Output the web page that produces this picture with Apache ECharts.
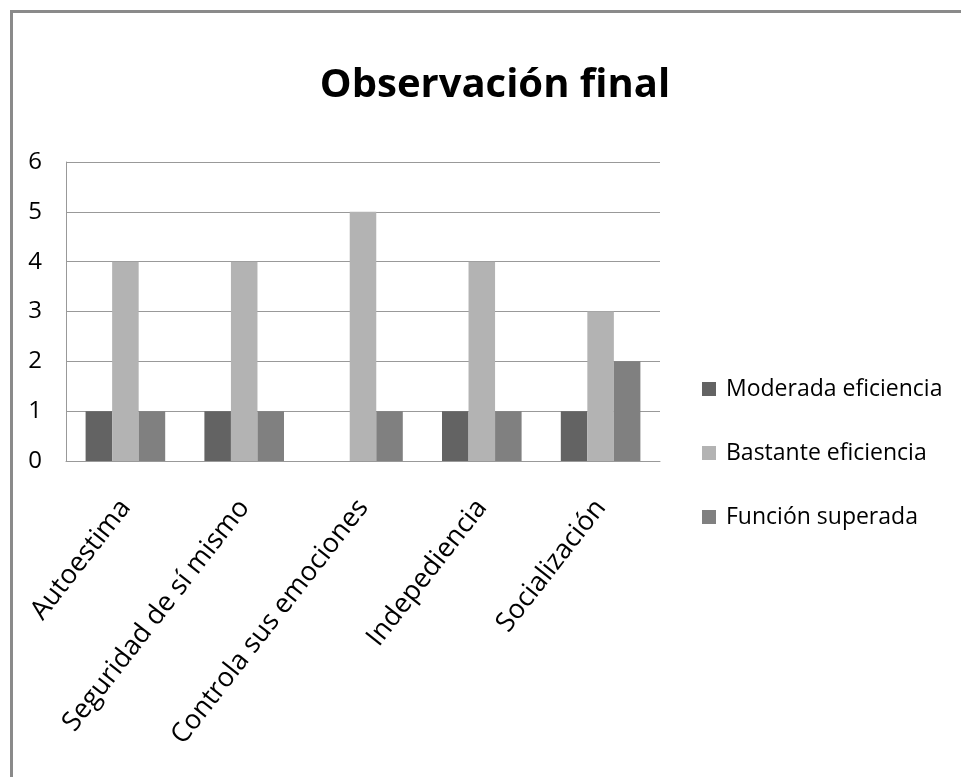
<!DOCTYPE html>
<html>
<head>
<meta charset="utf-8">
<script src="https://cdn.jsdelivr.net/npm/echarts@6/dist/echarts.min.js"></script>
<style>
  html, body { margin: 0; padding: 0; background: #fff; }
  #chart { width: 961px; height: 777px; }
</style>
</head>
<body>
<div id="chart"></div>
<script>
const categories = ['Autoestima', 'Seguridad de sí mismo', 'Controla sus emociones', 'Indepediencia', 'Socialización']
const moderada = [1, 1, 0, 1, 1]
const bastante = [4, 4, 5, 4, 3]
const funcion = [1, 1, 1, 1, 2]
const yTicks = [0, 1, 2, 3, 4, 5, 6]

const font = '"Open Sans", sans-serif'

const chart = echarts.init(document.getElementById('chart'))
chart.setOption({
  backgroundColor: '#fff',
  animation: false,
  title: {
    text: 'Observación final',
    left: 490,
    top: 61,
    textAlign: 'center',
    textStyle: { fontFamily: font, fontSize: 40, fontWeight: 'bold', color: '#000' }
  },
  graphic: [
    { type: 'rect', shape: { x: 10, y: 10, width: 951, height: 3 }, style: { fill: '#8a8a8a' } },
    { type: 'rect', shape: { x: 10, y: 10, width: 3, height: 767 }, style: { fill: '#8a8a8a' } }
  ],
  legend: {
    orient: 'vertical',
    left: 697,
    top: 369,
    itemWidth: 14,
    itemHeight: 14,
    itemGap: 34,
    icon: 'rect',
    textStyle: { fontFamily: font, fontSize: 23, lineHeight: 30, color: '#000', padding: [0, 0, 0, 5] },
    data: ['Moderada eficiencia', 'Bastante eficiencia', 'Función superada']
  },
  grid: { left: 66, right: 301, top: 162, bottom: 316 },
  xAxis: {
    type: 'category',
    data: categories,
    axisLine: { lineStyle: { color: '#999', width: 1 } },
    axisTick: { show: false },
    axisLabel: { rotate: 52, margin: 42, interval: 0, fontFamily: font, fontSize: 27, color: '#000' }
  },
  yAxis: {
    type: 'value',
    min: yTicks[0],
    max: yTicks[yTicks.length - 1],
    interval: 1,
    axisLine: { show: true, lineStyle: { color: '#999', width: 1 } },
    axisTick: { show: false },
    axisLabel: { margin: 24, fontFamily: font, fontSize: 24, color: '#000' },
    splitLine: { lineStyle: { color: '#999', width: 1 } }
  },
  series: [
    { name: 'Moderada eficiencia', type: 'bar', data: moderada, barGap: 0, barCategoryGap: '33%', itemStyle: { color: '#636363' } },
    { name: 'Bastante eficiencia', type: 'bar', data: bastante, barGap: 0, barCategoryGap: '33%', itemStyle: { color: '#b3b3b3' } },
    { name: 'Función superada', type: 'bar', data: funcion, barGap: 0, barCategoryGap: '33%', itemStyle: { color: '#808080' } }
  ]
})
</script>
</body>
</html>
